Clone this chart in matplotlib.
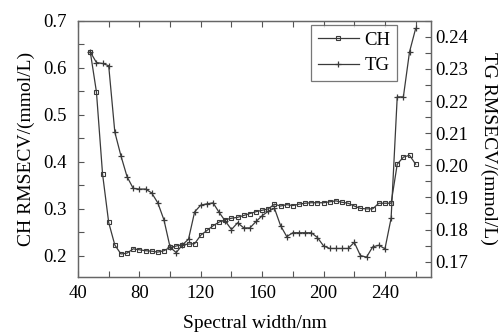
import matplotlib
matplotlib.use("Agg")
import matplotlib.pyplot as plt
from matplotlib.ticker import MultipleLocator

plt.rcParams['font.family'] = ['Liberation Serif', 'DejaVu Serif']

# spectral width (nm)
width = list(range(48, 261, 4))

ch_rmsecv = [0.634, 0.549, 0.374, 0.271, 0.223, 0.204, 0.206, 0.215, 0.213, 0.211,
             0.210, 0.208, 0.211, 0.218, 0.221, 0.224, 0.225, 0.226, 0.244, 0.254,
             0.264, 0.272, 0.277, 0.280, 0.282, 0.286, 0.290, 0.294, 0.297, 0.300,
             0.310, 0.306, 0.309, 0.307, 0.310, 0.312, 0.313, 0.313, 0.313, 0.315,
             0.317, 0.314, 0.312, 0.306, 0.301, 0.300, 0.300, 0.312, 0.312, 0.312,
             0.395, 0.410, 0.414, 0.395]

tg_rmsecv = [0.2353, 0.2320, 0.2317, 0.2310, 0.2103, 0.2029, 0.1964, 0.1928, 0.1926, 0.1926,
             0.1914, 0.1883, 0.1830, 0.1745, 0.1728, 0.1752, 0.1770, 0.1855, 0.1876, 0.1880,
             0.1883, 0.1853, 0.1826, 0.1800, 0.1821, 0.1805, 0.1805, 0.1825, 0.1843, 0.1857,
             0.1866, 0.1812, 0.1778, 0.1790, 0.1790, 0.1790, 0.1790, 0.1775, 0.1749, 0.1741,
             0.1741, 0.1741, 0.1741, 0.1760, 0.1719, 0.1714, 0.1746, 0.1751, 0.1740, 0.1835,
             0.2213, 0.2213, 0.2353, 0.2426]

col = '#3a3a3a'

fig = plt.figure(figsize=(5, 3.35), dpi=100)
ax = fig.add_axes([0.156, 0.173, 0.706, 0.765])
ax2 = ax.twinx()

l1, = ax.plot(width, ch_rmsecv, color=col, lw=0.9, marker='s', ms=3.0,
              mfc='none', mec=col, mew=0.8, label='CH')
l2, = ax2.plot(width, tg_rmsecv, color=col, lw=0.9, marker='+', ms=5,
               mew=0.9, label='TG')

ax.set_xlim(40, 270)
ax.set_ylim(0.155, 0.70)
ax2.set_ylim(0.1652, 0.245)

ax.xaxis.set_major_locator(MultipleLocator(40))
ax.xaxis.set_minor_locator(MultipleLocator(20))
ax.yaxis.set_major_locator(MultipleLocator(0.1))
ax.yaxis.set_minor_locator(MultipleLocator(0.05))
ax2.yaxis.set_major_locator(MultipleLocator(0.01))
ax2.yaxis.set_minor_locator(MultipleLocator(0.005))
ax2.yaxis.set_major_formatter(plt.FormatStrFormatter('%.2f'))

ax.tick_params(axis='x', which='both', direction='in', top=True, length=4,
               width=0.8, color='#555555', labelsize=13.5, pad=6)
ax.tick_params(axis='y', which='both', direction='in', right=False, length=4,
               width=0.8, color='#555555', labelsize=13.5, pad=8)
ax2.tick_params(axis='y', which='both', direction='in', length=4,
                width=0.8, color='#555555', labelsize=13.5, pad=3)

for a in (ax, ax2):
    for s in a.spines.values():
        s.set_color('#666666')
        s.set_linewidth(0.9)

ax.set_xlabel('Spectral width/nm', fontsize=14, labelpad=9)
ax.set_ylabel('CH RMSECV/(mmol/L)', fontsize=14, labelpad=6)
ax2.set_ylabel('TG RMSECV/(mmol/L)', fontsize=14, rotation=-90, labelpad=21)

leg = ax.legend(handles=[l1, l2], loc='upper right', bbox_to_anchor=(0.904, 0.984),
                borderaxespad=0, fontsize=13.5, frameon=True, fancybox=False,
                edgecolor='#555555', handlelength=2.2, handletextpad=0.3,
                borderpad=0.35, labelspacing=0.45)
leg.get_frame().set_linewidth(0.9)

fig.savefig('out.png', dpi=100)
